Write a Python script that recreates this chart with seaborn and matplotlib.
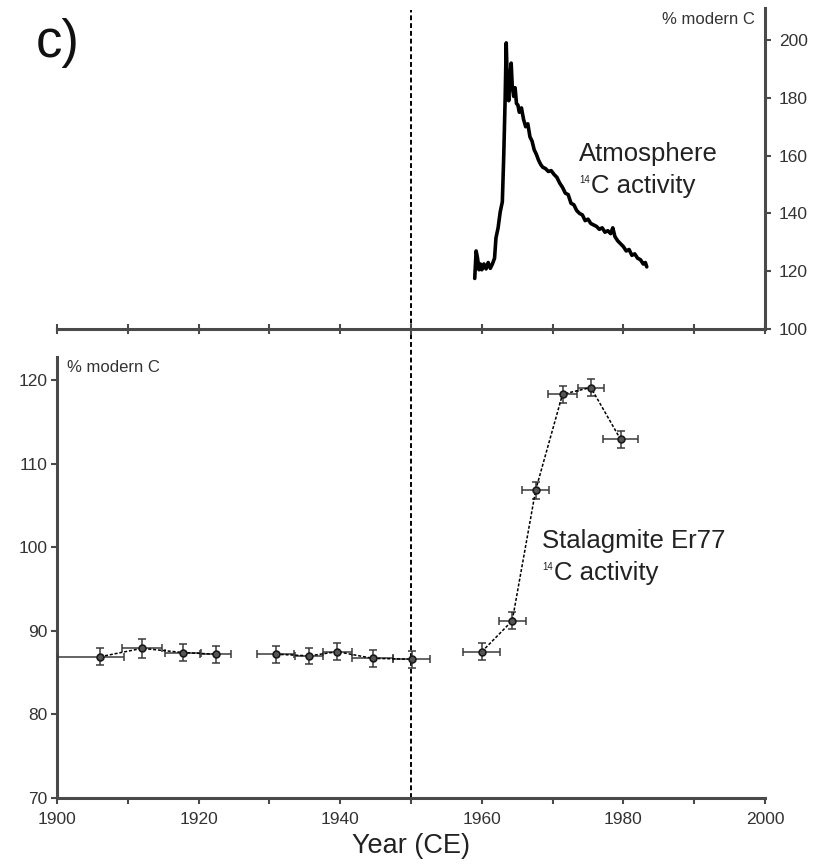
import numpy as np
import pandas as pd
import matplotlib
matplotlib.use("Agg")
import matplotlib.pyplot as plt
import seaborn as sns

# ---------------- data ----------------
atm_year = [1959.0, 1959.2, 1959.4, 1959.6, 1959.8, 1960.0, 1960.3, 1960.6, 1960.9, 1961.2,
            1961.5, 1961.8, 1962.0, 1962.3, 1962.6, 1962.9, 1963.1, 1963.3, 1963.45, 1963.6,
            1963.8, 1964.0, 1964.15, 1964.3, 1964.5, 1964.7, 1964.9, 1965.1, 1965.3, 1965.6,
            1965.9, 1966.2, 1966.5, 1966.8, 1967.1, 1967.4, 1967.7, 1968.0, 1968.3, 1968.6,
            1969.0, 1969.4, 1969.8, 1970.2, 1970.6, 1971.0, 1971.4, 1971.8, 1972.2, 1972.6,
            1973.0, 1973.4, 1973.8, 1974.2, 1974.6, 1975.0, 1975.4, 1975.8, 1976.2, 1976.6,
            1977.0, 1977.4, 1977.8, 1978.2, 1978.5, 1978.8, 1979.2, 1979.6, 1980.0, 1980.4,
            1980.8, 1981.2, 1981.6, 1982.0, 1982.4, 1982.8, 1983.1, 1983.3]
atm_value = [117.5, 127.0, 124.5, 120.5, 122.5, 120.5, 122.5, 120.8, 123.0, 121.0,
             122.5, 124.5, 131.5, 135.0, 140.5, 144.0, 160.0, 180.0, 199.0, 185.0,
             179.0, 188.0, 192.0, 184.0, 180.5, 183.5, 178.0, 177.5, 175.0, 176.5,
             172.5, 170.0, 171.0, 166.5, 165.0, 162.0, 160.5, 158.5, 157.0, 156.0,
             155.5, 154.5, 154.8, 153.5, 152.5, 150.5, 149.0, 147.0, 146.5, 143.5,
             143.0, 141.0, 140.0, 139.5, 137.5, 138.0, 136.5, 136.0, 135.5, 134.5,
             135.0, 133.5, 134.0, 133.0, 135.0, 132.0, 130.5, 129.5, 128.5, 127.0,
             127.5, 125.5, 126.0, 124.5, 124.0, 122.5, 123.0, 121.5]

stal_year = [1906.1, 1912.0, 1917.8, 1922.4, 1930.9, 1935.6, 1939.6, 1944.6, 1950.1,
             1960.0, 1964.3, 1967.6, 1971.4, 1975.4, 1979.6]
stal_value = [86.9, 87.9, 87.4, 87.2, 87.2, 87.0, 87.5, 86.7, 86.6,
              87.5, 91.2, 106.8, 118.3, 119.1, 112.9]
stal_xerr_lo = [6.1, 2.8, 2.5, 2.2, 2.6, 2.0, 2.0, 2.9, 2.6, 2.6, 1.9, 1.95, 2.05, 1.8, 2.45]
stal_xerr_hi = [3.3, 2.8, 2.5, 2.2, 2.6, 2.0, 2.0, 2.9, 2.6, 2.6, 1.9, 1.95, 2.05, 1.8, 2.45]
stal_yerr = [1.0, 1.1, 1.0, 1.0, 1.0, 1.0, 1.0, 1.0, 1.0, 1.0, 1.0, 1.0, 1.0, 1.0, 1.0]
stal_segment = [1, 1, 1, 1, 2, 2, 2, 2, 2, 3, 3, 3, 3, 3, 3]

x_ticks_major = [1900, 1920, 1940, 1960, 1980, 2000]
x_ticks_minor = [1910, 1930, 1950, 1970, 1990]
bottom_yticks = [70, 80, 90, 100, 110, 120]
top_yticks = [100, 120, 140, 160, 180, 200]

# ---------------- style ----------------
sns.set_theme(style="white")
plt.rcParams['font.family'] = ['Liberation Sans', 'DejaVu Sans']

W, H = 817, 865
fig = plt.figure(figsize=(W / 100, H / 100), dpi=100)

def fx(px):
    return px / W

def fy(py):
    return 1 - py / H

x0, x1 = 57, 765
spine_c = '#4a4a4a'
text_c = '#333333'

# bottom axes covers full height (so the dashed line spans everything)
axb = fig.add_axes([fx(x0), fy(798), fx(x1) - fx(x0), fy(10) - fy(798)])
axb.set_xlim(1900, 2000)
axb.set_ylim(70, 70 + (798 - 10) / 8.36)

# top axes
axt = fig.add_axes([fx(x0), fy(329), fx(x1) - fx(x0), fy(8) - fy(329)])
axt.set_xlim(1900, 2000)
axt.set_ylim(100, 100 + (329 - 8) / 2.89)
axt.patch.set_alpha(0)

# dashed 1950 line
axb.axvline(1950, color='black', lw=1.4, ls=(0, (2.5, 1.5)), zorder=1)

# stalagmite data
df = pd.DataFrame({'year': stal_year, 'value': stal_value, 'seg': stal_segment})
axb.errorbar(stal_year, stal_value, xerr=[stal_xerr_lo, stal_xerr_hi], yerr=stal_yerr,
             fmt='none', ecolor='#3a3a3a', elinewidth=1.1, capsize=2.8, capthick=1.1, zorder=3)
sns.lineplot(data=df, x='year', y='value', units='seg', estimator=None, ax=axb,
             color='black', lw=1.1, linestyle=(0, (2, 1.2)), zorder=4, legend=False)
sns.scatterplot(data=df, x='year', y='value', ax=axb, s=24, color='#555555',
                edgecolor='#1a1a1a', linewidth=1.2, zorder=5, legend=False)

# atmosphere curve
dfa = pd.DataFrame({'year': atm_year, 'value': atm_value})
sns.lineplot(data=dfa, x='year', y='value', ax=axt, color='black', lw=2.6, sort=False,
             estimator=None, legend=False)

# bottom axes styling
for s in ['top', 'right']:
    axb.spines[s].set_visible(False)
axb.spines['left'].set_bounds(70, 122.7)
for s in ['left', 'bottom']:
    axb.spines[s].set_color(spine_c)
    axb.spines[s].set_linewidth(2.2)
axb.set_xticks(x_ticks_major)
axb.set_xticks(x_ticks_minor, minor=True)
axb.set_yticks(bottom_yticks)
axb.tick_params(axis='both', which='both', direction='out', length=4, width=1.5,
                color=spine_c, labelsize=12.5, labelcolor=text_c, pad=3, bottom=True, left=True)
axb.tick_params(axis='x', pad=6)
axb.set_xlabel('')
axb.set_ylabel('')

# top axes styling
for s in ['top', 'left']:
    axt.spines[s].set_visible(False)
for s in ['right', 'bottom']:
    axt.spines[s].set_color(spine_c)
    axt.spines[s].set_linewidth(2.2)
axt.spines['right'].set_bounds(100, 100 + (329 - 8) / 2.89)
axt.set_xticks(x_ticks_major + x_ticks_minor)
axt.tick_params(axis='x', direction='inout', length=7, width=1.5, color=spine_c,
                labelbottom=False, bottom=True)
axt.yaxis.tick_right()
axt.set_yticks(top_yticks)
axt.tick_params(axis='y', direction='out', length=4, width=1.5, color=spine_c,
                labelsize=12.5, labelcolor=text_c, right=True, left=False, pad=6)
axt.set_xlabel('')
axt.set_ylabel('')

# texts
lab_c = '#222222'
fig.text(fx(58), fy(43), 'c)', fontsize=38, ha='center', va='center', color='#111111')
fig.text(fx(755), fy(20), '% modern C', fontsize=12, ha='right', va='center', color=text_c)
fig.text(fx(67), fy(368), '% modern C', fontsize=12, ha='left', va='center', color=text_c)

def label_block(xpx, base1, base2, line1):
    fig.text(fx(xpx), fy(base1), line1, fontsize=18.5, ha='left', va='baseline', color=lab_c)
    fig.text(fx(xpx), fy(base2 - 10), '14', fontsize=7, ha='left', va='baseline', color=lab_c)
    fig.text(fx(xpx + 12), fy(base2), 'C activity', fontsize=18.5, ha='left',
             va='baseline', color=lab_c)

label_block(579, 161, 193, 'Atmosphere')
label_block(542, 548, 580, 'Stalagmite Er77')

fig.text(fx(411), fy(846), 'Year (CE)', fontsize=19.5, ha='center', va='center', color=lab_c)

fig.savefig('out.png', dpi=100)
